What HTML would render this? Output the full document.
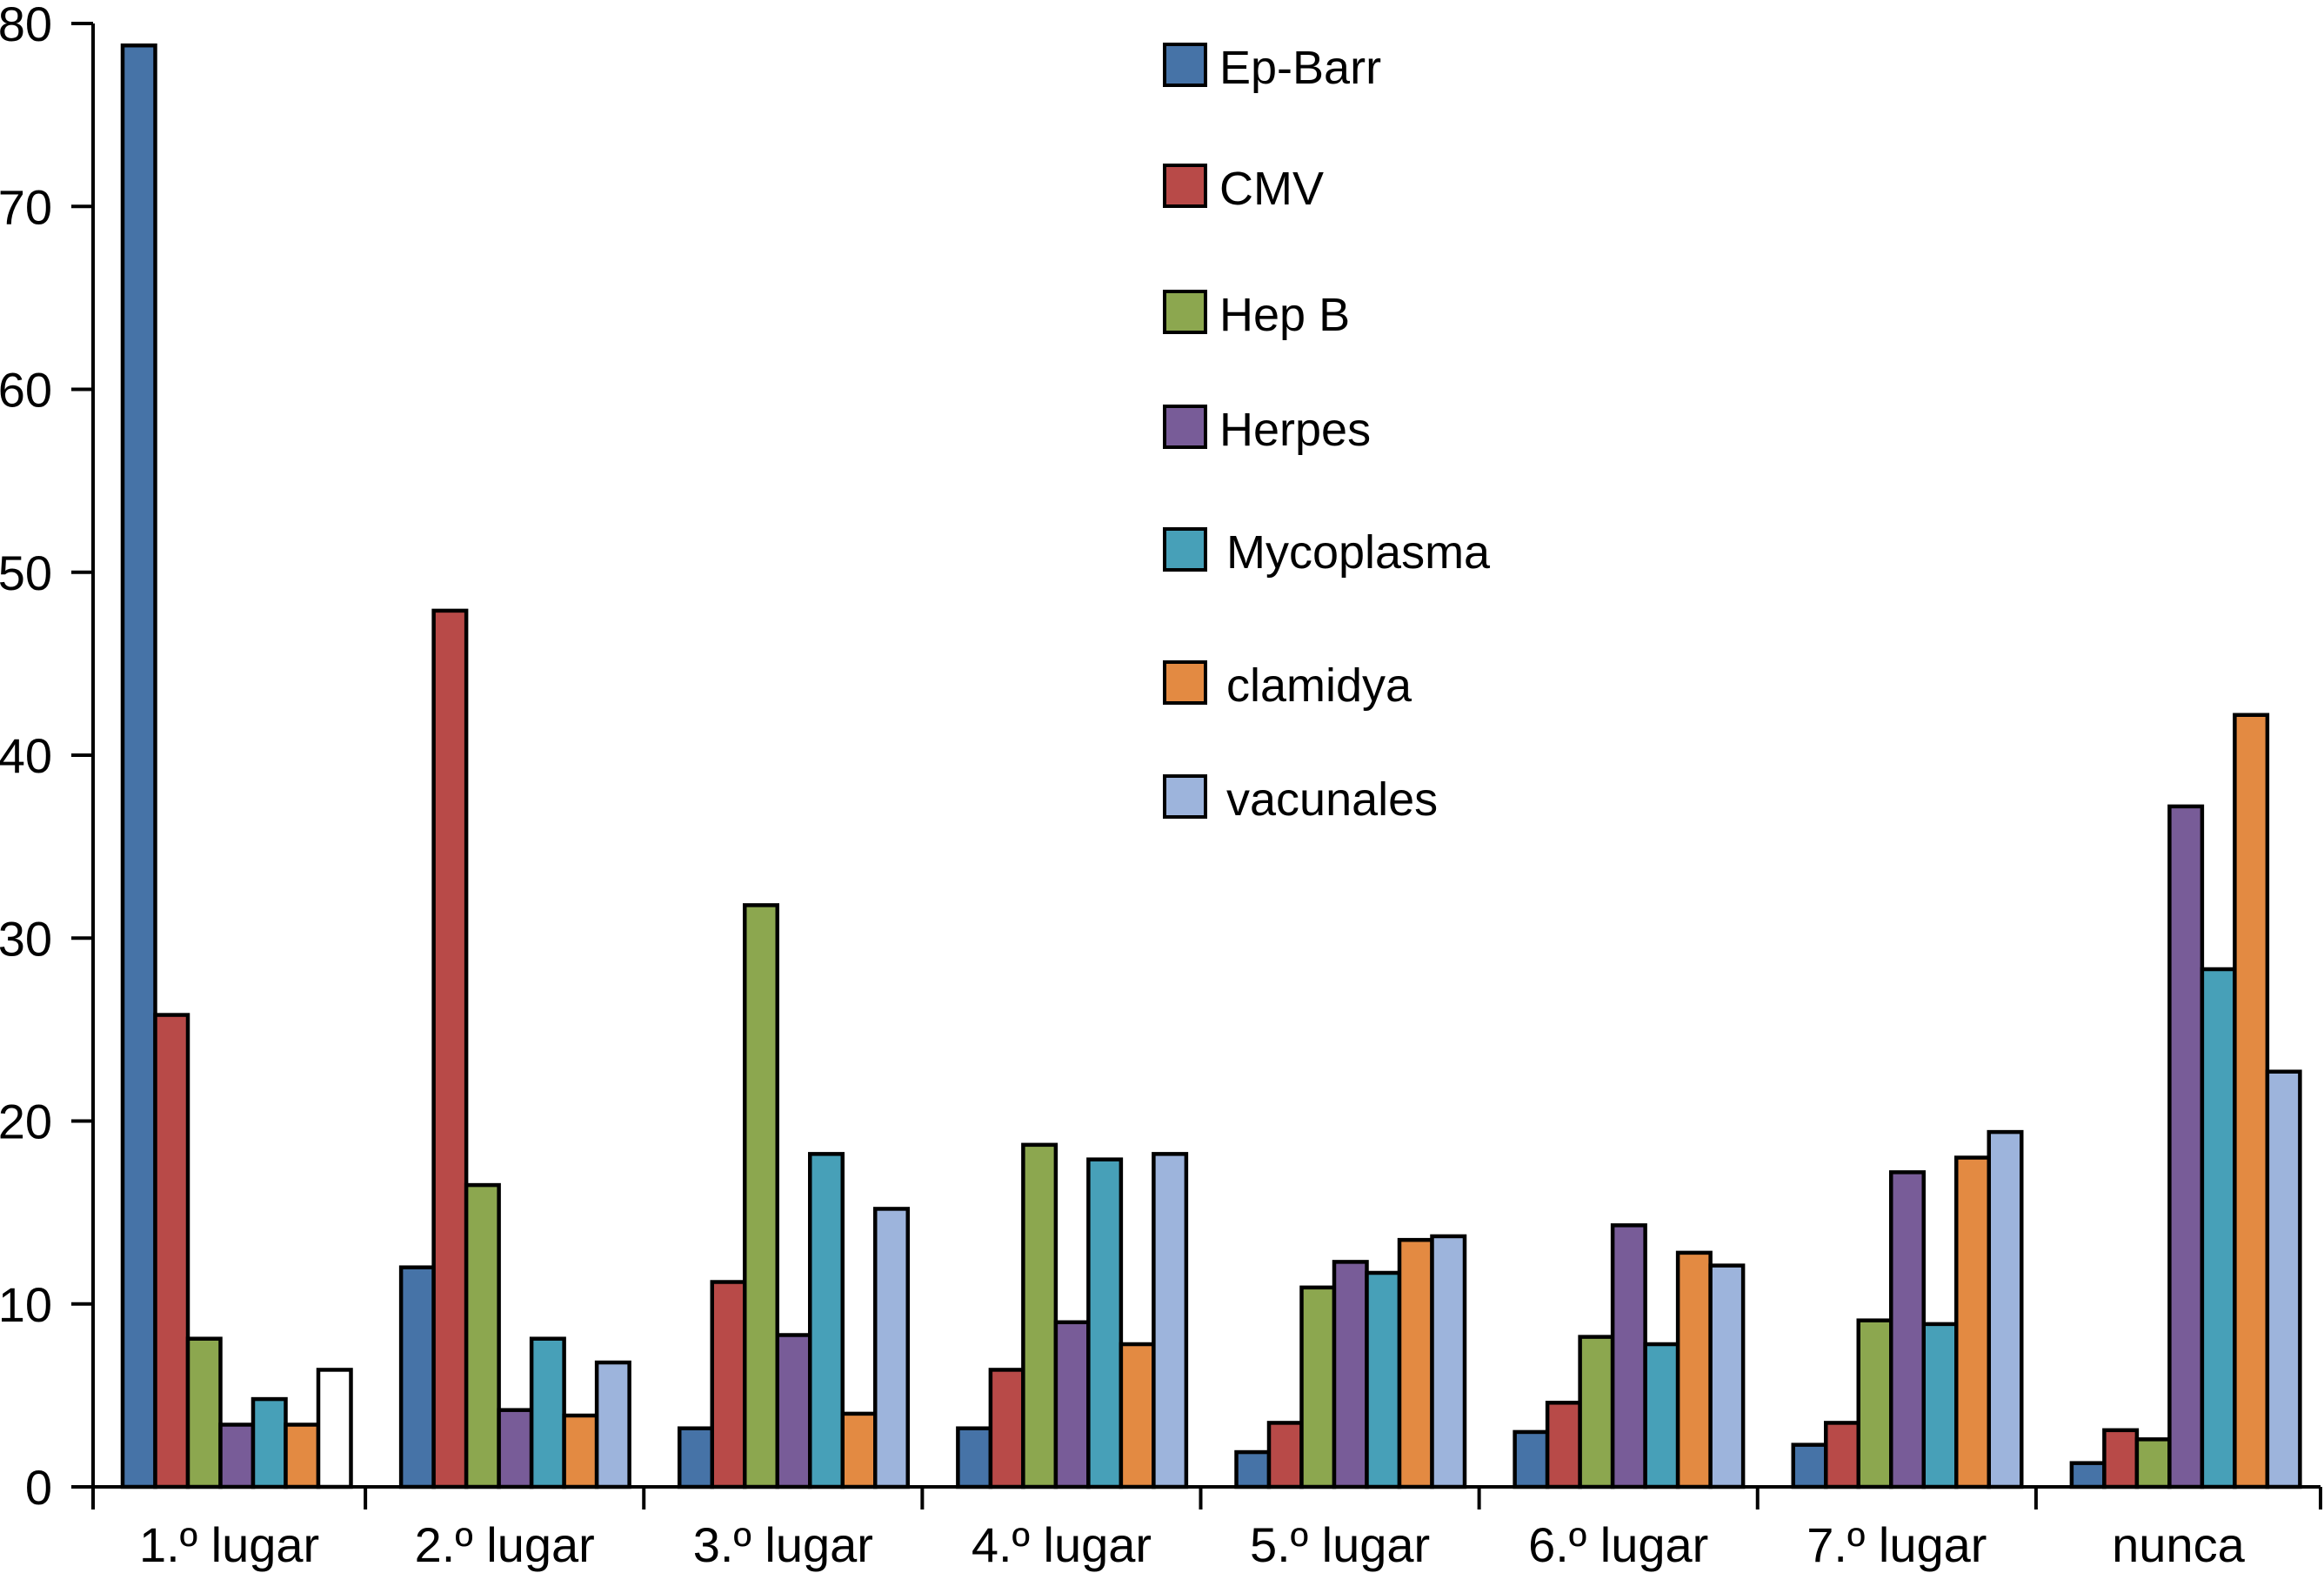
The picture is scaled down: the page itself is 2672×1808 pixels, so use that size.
<!DOCTYPE html>
<html><head><meta charset="utf-8">
<style>
html,body{margin:0;padding:0;background:#fff;}
svg{display:block;font-family:"Liberation Sans",Arial,sans-serif;}
</style></head>
<body>
<svg id="chart" width="2672" height="1808" viewBox="0 0 2672 1808" xmlns="http://www.w3.org/2000/svg"></svg>
<script>
const categories = ["1.º lugar","2.º lugar","3.º lugar","4.º lugar","5.º lugar","6.º lugar","7.º lugar","nunca"];
const seriesNames = ["Ep-Barr","CMV","Hep B","Herpes","Mycoplasma","clamidya","vacunales"];
const epBarr    = [78.8, 12.0, 3.2, 3.2, 1.9, 3.0, 2.3, 1.3];
const cmv       = [25.8, 47.9, 11.2, 6.4, 3.5, 4.6, 3.5, 3.1];
const hepB      = [8.1, 16.5, 31.8, 18.7, 10.9, 8.2, 9.1, 2.6];
const herpes    = [3.4, 4.2, 8.3, 9.0, 12.3, 14.3, 17.2, 37.2];
const mycoplasma= [4.8, 8.1, 18.2, 17.9, 11.7, 7.8, 8.9, 28.3];
const clamidya  = [3.4, 3.9, 4.0, 7.8, 13.5, 12.8, 18.0, 42.2];
const vacunales = [6.4, 6.8, 15.2, 18.2, 13.7, 12.1, 19.4, 22.7];
const yTicks = [0,10,20,30,40,50,60,70,80];

const seriesData = [epBarr,cmv,hepB,herpes,mycoplasma,clamidya,vacunales];
const colors = ["#4673a7","#b84a48","#8ca74f","#785c98","#47a0b8","#e38a42","#9db4dc"];
const svg = document.getElementById('chart');
const NS = "http://www.w3.org/2000/svg";
const Y0 = 1709, Y80 = 27, AX = 107, XEND = 2668;
const GROUP_STEP = (XEND - AX) / categories.length;
const BAR_W = 37.5, FIRST_OFF = 34;
function y(v){ return Y0 - (v/80)*(Y0-Y80); }
function groupStart(i){ return AX + i*GROUP_STEP; }
function barX(i,s){ return groupStart(i) + FIRST_OFF + s*BAR_W; }
function tickX(i){ if(i===0) return AX; if(i===categories.length) return XEND; return barX(i,0) - 41; }
function mk(tag, attrs){ const e=document.createElementNS(NS,tag); for(const k in attrs) e.setAttribute(k,attrs[k]); svg.appendChild(e); return e; }

seriesData.forEach((arr,s)=>{
  arr.forEach((v,i)=>{
    const r = mk('rect',{x:barX(i,s), y:y(v), width:BAR_W, height:Y0-y(v),
      fill:(s===6&&i===0)?'#ffffff':colors[s], stroke:'#000','stroke-width':4.5});
    
    
  });
});

const ya = mk('line',{x1:AX,y1:Y80,x2:AX,y2:Y0,stroke:'#000','stroke-width':4});


yTicks.forEach(t=>{
  const tl = mk('line',{x1:82,y1:y(t),x2:AX,y2:y(t),stroke:'#000','stroke-width':4});
  
  
  const tx = mk('text',{x:60,y:y(t)+20,'text-anchor':'end','font-size':56,fill:'#000'});
  tx.textContent = t;
  
  
});

const xa = mk('line',{x1:AX,y1:Y0,x2:XEND,y2:Y0,stroke:'#000','stroke-width':4});


for(let i=0;i<=categories.length;i++){
  const tl = mk('line',{x1:tickX(i),y1:Y0,x2:tickX(i),y2:Y0+26,stroke:'#000','stroke-width':4});
  
  
}
categories.forEach((c,i)=>{
  const tx = mk('text',{x:(tickX(i)+tickX(i+1))/2,y:1795,'text-anchor':'middle','font-size':56,fill:'#000'});
  tx.textContent = c;
  
  
});

const legTops = [51,190,335,467,608,761,892];
const legTextX = [1402,1402,1402,1402,1410,1410,1410];
seriesNames.forEach((n,s)=>{
  const b = mk('rect',{x:1339,y:legTops[s],width:47,height:47,fill:colors[s],stroke:'#000','stroke-width':4});
  
  
  const tx = mk('text',{x:legTextX[s],y:legTops[s]+45,'font-size':54,fill:'#000'});
  tx.textContent = n;
  
  
});
</script>
</body></html>
